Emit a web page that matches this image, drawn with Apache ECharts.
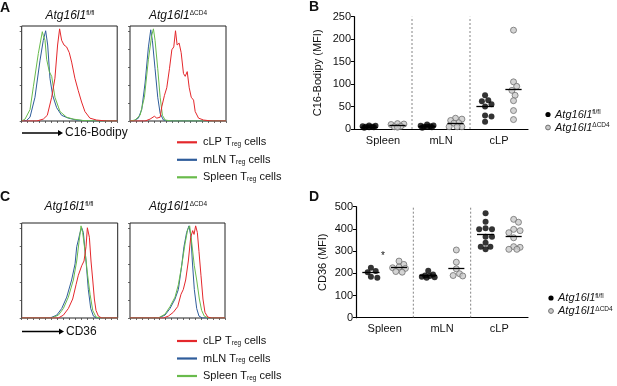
<!DOCTYPE html>
<html>
<head>
<meta charset="utf-8">
<script src="https://cdn.jsdelivr.net/npm/echarts@6/dist/echarts.min.js"></script>
<style>
  html, body { margin: 0; padding: 0; background: #fff; }
  #fig { width: 617px; height: 386px; }
</style>
</head>
<body>
<div id="fig"></div>
<script>
// histograms: [x % of fluorescence axis, % of max count]
var a1Red = [[0,0],[15.7,0],[22.6,2],[26.8,6],[31.4,25],[34.8,45],[37.6,80],[39.7,97],[41.8,85],[44.3,80],[47,78],[49.8,72],[52.3,62],[55.7,45],[59.2,32],[62.7,20],[66.2,10],[71.4,3],[78.4,1],[89,0],[100,0]];
var a1Blue = [[0,0],[5,0.5],[8.7,4],[13.9,25],[19.2,64],[22.6,85],[25.1,95],[27.2,80],[29.6,45],[32.4,27],[36.6,14],[41.8,6],[48.8,3],[57.5,1],[70,0],[100,0]];
var a1Green = [[0,0],[3.5,2],[8.7,12],[12.2,36],[17.4,71],[21.6,94],[22.6,90],[24.4,85],[26.1,65],[28.9,52],[31.4,47],[34.8,25],[40.1,10],[47,4],[54,2],[64.5,0.5],[80,0],[100,0]];
var a2Red = [[0,0],[15.7,0],[20.9,2],[25.4,5],[27.9,3],[31.4,4],[33.1,15],[35.9,27],[38.3,35],[41.1,55],[43.6,75],[45.6,78],[47.4,95],[49.1,80],[51.2,82],[53.3,72],[55.7,50],[57.5,47],[59.6,52],[61.7,35],[63.8,25],[66.2,22],[67.9,10],[71.4,3],[76.7,1],[85.4,0],[100,0]];
var a2Blue = [[0,0],[3.5,0],[8.7,3],[12.2,12],[15.7,40],[19.2,78],[21.6,96],[23.3,85],[26.1,55],[28.9,25],[31.4,8],[34.8,1],[40,0],[100,0]];
var a2Green = [[0,0],[5.2,1],[10.5,6],[15,25],[19.2,65],[22.6,90],[24.4,97],[26.1,85],[28.9,55],[31.4,25],[33.8,6],[36.6,1],[43.6,0],[100,0]];
var c1Red = [[0,0],[38.2,0],[43.4,3],[48.6,10],[53.1,20],[56.6,35],[59,45],[62.5,55],[64.9,60],[67,75],[68.4,95],[70.5,85],[72.2,60],[74,40],[75.7,20],[77.4,8],[79.9,2],[83.3,0],[100,0]];
var c1Blue = [[0,0],[29.5,0],[36.5,3],[41.7,10],[46.9,22],[52,40],[55.6,57],[57.3,75],[59,82],[60.8,90],[62.5,95],[64.2,90],[67,60],[69.4,30],[71.9,10],[74.7,2],[78,0],[100,0]];
var c1Green = [[0,0],[31.2,0],[38.2,3],[43.4,10],[48.6,22],[53.8,40],[57.3,60],[59.7,80],[61.8,97],[63.5,90],[66,70],[68.7,45],[71.2,25],[74,8],[77.4,1],[81.6,0],[100,0]];
var c2Red = [[0,0],[35.1,0],[40.4,2],[45.6,6],[50.2,12],[53.7,25],[56.1,30],[58.6,40],[61.4,60],[63.9,85],[66,92],[67.4,88],[69.1,97],[70.9,90],[72.6,70],[74.7,45],[76.8,20],[78.9,6],[81.8,1],[86,0],[100,0]];
var c2Blue = [[0,0],[29.8,0],[36.8,3],[42.1,10],[47.4,20],[50.9,30],[54.4,55],[56.8,75],[59.6,90],[62.1,97],[64.2,85],[65.6,60],[67.7,30],[70.2,10],[72.6,2],[76.1,0],[100,0]];
var c2Green = [[0,0],[29.8,0],[36.8,4],[42.1,12],[47.4,22],[50.9,35],[54.4,55],[57.9,78],[60.7,93],[62.8,97],[64.9,80],[67.7,55],[70.2,40],[73,20],[75.4,8],[78.2,2],[82.5,0],[100,0]];

// dot plots
var tissues = ['Spleen', 'mLN', 'cLP'];
var bFlox = [[8,7,6,5,5,4,4,3],[10,8,7,6,5,5,4,3],[75,64,62,55,50,30,28,16]];
var bCd4 = [[12,11,10,6,5,4],[24,22,19,14,13,5,5,5],[220,105,95,86,75,63,41,21]];
var bFloxMean = [5, 6, 50];
var bCd4Mean = [8, 12, 88];
var dFlox = [[225,210,205,185,180],[212,195,190,188,185,182,180],[470,432,403,398,398,365,365,338,320,320,308]];
var dCd4 = [[255,240,228,225,222,208,205],[305,250,220,198,190,188],[443,430,398,392,383,360,320,317,308,308]];
var dFloxMean = [203, 189, 377];
var dCd4Mean = [227, 225, 368];

var FONT = '"Liberation Sans", Arial, Helvetica, sans-serif';
var RED = '#e4282c', BLUE = '#2f5d9b', GREEN = '#69bb4c';

var grids = [
  { left: 21.7, top: 26, width: 95.5, height: 95 },
  { left: 130, top: 26, width: 96, height: 95 },
  { left: 21.7, top: 223, width: 96, height: 95 },
  { left: 130, top: 223, width: 95, height: 95 },
  { left: 354, top: 16.7, width: 174, height: 112.3 },
  { left: 356, top: 206.7, width: 172, height: 111 }
];
grids.forEach(function (g, i) {
  g.containLabel = false;
  if (i < 4) { g.show = true; g.borderColor = '#222'; g.borderWidth = 1; }
});

var xAxes = [], yAxes = [];
for (var i = 0; i < 4; i++) {
  xAxes.push({
    gridIndex: i, type: 'value', min: 0, max: 100, interval: 6.25,
    axisLine: { show: false }, splitLine: { show: false }, axisLabel: { show: false },
    axisTick: { show: true, length: 2, lineStyle: { color: '#444', width: 0.8 } }
  });
  yAxes.push({
    gridIndex: i, type: 'value', min: 0, max: 100, interval: 19,
    axisLine: { show: false }, splitLine: { show: false }, axisLabel: { show: false },
    axisTick: { show: true, length: 2, lineStyle: { color: '#444', width: 0.8 } }
  });
}

function dotX(gridIdx) {
  return {
    gridIndex: gridIdx, type: 'value', min: 0, max: 3, interval: 0.5,
    axisLine: { lineStyle: { color: '#000', width: 1.2 } },
    axisTick: { show: false }, splitLine: { show: false },
    axisLabel: {
      fontFamily: FONT, fontSize: 11, color: '#111', margin: 6,
      formatter: function (v) {
        var k = Math.round(v - 0.5);
        return (Math.abs(v - k - 0.5) < 0.01) ? tissues[k] : '';
      }
    }
  };
}
function dotY(gridIdx, max, step, name, gap) {
  return {
    gridIndex: gridIdx, type: 'value', min: 0, max: max, interval: step,
    name: name, nameLocation: 'middle', nameGap: gap, nameRotate: 90,
    nameTextStyle: { fontFamily: FONT, fontSize: 11, color: '#111' },
    axisLine: { show: true, lineStyle: { color: '#000', width: 1.2 } },
    axisTick: { show: true, length: 3, lineStyle: { color: '#000' } },
    splitLine: { show: false },
    axisLabel: { fontFamily: FONT, fontSize: 11, color: '#111', margin: 3 }
  };
}
xAxes.push(dotX(4)); yAxes.push(dotY(4, 250, 50, 'C16-Bodipy (MFI)', 31));
xAxes.push(dotX(5)); yAxes.push(dotY(5, 500, 100, 'CD36 (MFI)', 28));

var series = [];
function hist(idx, red, blue, green) {
  [[blue, BLUE], [green, GREEN], [red, RED]].forEach(function (p) {
    series.push({
      type: 'line', xAxisIndex: idx, yAxisIndex: idx, data: p[0],
      showSymbol: false, smooth: false, silent: true,
      lineStyle: { color: p[1], width: 1 }
    });
  });
}
hist(0, a1Red, a1Blue, a1Green);
hist(1, a2Red, a2Blue, a2Green);
hist(2, c1Red, c1Blue, c1Green);
hist(3, c2Red, c2Blue, c2Green);

// beeswarm: first free sideways slot, else the least crowded one
function swarm(values, center, bandPx, pxPerUnit) {
  var placed = [], out = [];
  var sorted = values.slice().sort(function (a, b) { return b - a; });
  var offs = [0, 1, -1, 2, -2, 3, -3, 4, -4];
  sorted.forEach(function (v) {
    var yPx = v * pxPerUnit, best = 0, bestD = -1, chosen = null;
    for (var k = 0; k < offs.length; k++) {
      var xPx = offs[k] * 1.6, minD = 1e9;
      for (var j = 0; j < placed.length; j++) {
        var dx = placed[j][0] - xPx, dy = placed[j][1] - yPx;
        minD = Math.min(minD, Math.sqrt(dx * dx + dy * dy));
      }
      if (minD >= 5.2) { chosen = xPx; break; }
      if (minD > bestD) { bestD = minD; best = xPx; }
    }
    if (chosen === null) chosen = best;
    placed.push([chosen, yPx]);
    out.push([center + chosen / bandPx, v]);
  });
  return out;
}

function dotPanel(idx, flox, cd4, floxMean, cd4Mean, max, bandPx, hPx) {
  var ppu = hPx / max;
  var blk = [], gry = [], lines = [];
  for (var t = 0; t < 3; t++) {
    var cb = t + 0.26, cg = t + 0.75;
    blk = blk.concat(swarm(flox[t], cb, bandPx, ppu));
    gry = gry.concat(swarm(cd4[t], cg, bandPx, ppu));
    lines.push([{ coord: [cb - 0.15, floxMean[t]] }, { coord: [cb + 0.15, floxMean[t]] }]);
    lines.push([{ coord: [cg - 0.14, cd4Mean[t]] }, { coord: [cg + 0.14, cd4Mean[t]] }]);
  }
  series.push({
    type: 'line', xAxisIndex: idx, yAxisIndex: idx, silent: true, showSymbol: false,
    data: [[1, 0], [1, max], null, [2, 0], [2, max]].map(function (p) { return p || ['-', '-']; }),
    lineStyle: { color: '#666', width: 0.8, type: [2, 2] }
  });
  series.push({
    type: 'scatter', xAxisIndex: idx, yAxisIndex: idx, data: blk, symbolSize: 6,
    itemStyle: { color: '#000' }, silent: true
  });
  series.push({
    type: 'scatter', xAxisIndex: idx, yAxisIndex: idx, data: gry, symbolSize: 6,
    itemStyle: { color: '#c9c9c9', borderColor: '#707070', borderWidth: 1 }, silent: true,
    markLine: {
      silent: true, symbol: 'none', label: { show: false },
      lineStyle: { color: '#000', width: 1.3, type: 'solid' },
      data: lines
    }
  });
}
dotPanel(4, bFlox, bCd4, bFloxMean, bCd4Mean, 250, 58, 112.3);
dotPanel(5, dFlox, dCd4, dFloxMean, dCd4Mean, 500, 57.3, 111);

// text helpers
var rich = {
  i: { fontFamily: FONT, fontSize: 12, fontStyle: 'italic', color: '#111' },
  s: { fontFamily: FONT, fontSize: 6.5, color: '#111', verticalAlign: 'top' },
  li: { fontFamily: FONT, fontSize: 11, fontStyle: 'italic', color: '#111' },
  ls: { fontFamily: FONT, fontSize: 6.5, color: '#111', verticalAlign: 'top' },
  t: { fontFamily: FONT, fontSize: 11, color: '#111' },
  sub: { fontFamily: FONT, fontSize: 6.5, color: '#111', verticalAlign: 'bottom' }
};
function txt(x, y, text, opts) {
  opts = opts || {};
  return {
    type: 'text', x: x, y: y, silent: true,
    style: {
      text: text, rich: rich, fontFamily: FONT, fontSize: opts.size || 12,
      fontWeight: opts.weight || 'normal', fill: '#111',
      align: opts.align || 'left', verticalAlign: 'middle'
    }
  };
}
function arrow(x1, x2, y) {
  return [
    { type: 'line', silent: true, shape: { x1: x1, y1: y, x2: x2 - 4, y2: y }, style: { stroke: '#000', lineWidth: 1.4 } },
    { type: 'polygon', silent: true, shape: { points: [[x2 - 5, y - 3], [x2, y], [x2 - 5, y + 3]] }, style: { fill: '#000' } }
  ];
}
function lineKey(y0) {
  var out = [];
  [[RED, 'cLP'], [BLUE, 'mLN'], [GREEN, 'Spleen']].forEach(function (e, k) {
    var y = y0 + k * 17.5;
    out.push({ type: 'line', silent: true, shape: { x1: 177, y1: y, x2: 197, y2: y }, style: { stroke: e[0], lineWidth: 2.2 } });
    out.push(txt(203, y, '{t|' + e[1] + ' T}{sub|reg}{t| cells}'));
  });
  return out;
}
function dotKey(x, y0) {
  return [
    { type: 'circle', silent: true, shape: { cx: x, cy: y0, r: 2.6 }, style: { fill: '#000' } },
    txt(x + 7, y0, '{li|Atg16l1}{ls|fl/fl}'),
    { type: 'circle', silent: true, shape: { cx: x, cy: y0 + 13, r: 2.4 }, style: { fill: '#c9c9c9', stroke: '#707070', lineWidth: 1 } },
    txt(x + 7, y0 + 13, '{li|Atg16l1}{ls|\u0394CD4}')
  ];
}

var graphic = [
  txt(0, 8, 'A', { size: 14, weight: 'bold' }),
  txt(309, 7, 'B', { size: 14, weight: 'bold' }),
  txt(0, 197, 'C', { size: 14, weight: 'bold' }),
  txt(309, 197, 'D', { size: 14, weight: 'bold' }),
  txt(70, 16, '{i|Atg16l1}{s|fl/fl}', { align: 'center' }),
  txt(178, 16, '{i|Atg16l1}{s|\u0394CD4}', { align: 'center' }),
  txt(69, 207, '{i|Atg16l1}{s|fl/fl}', { align: 'center' }),
  txt(178, 207, '{i|Atg16l1}{s|\u0394CD4}', { align: 'center' }),
  txt(65, 133, 'C16-Bodipy'),
  txt(66, 331.5, 'CD36'),
  txt(383, 256, '*', { size: 10, align: 'center' })
]
  .concat(arrow(22, 63, 133))
  .concat(arrow(22, 64, 331.5))
  .concat(lineKey(142.3))
  .concat(lineKey(341))
  .concat(dotKey(548, 114.5))
  .concat(dotKey(551, 298));

var chart = echarts.init(document.getElementById('fig'), null, { renderer: 'canvas' });
chart.setOption({
  animation: false,
  backgroundColor: '#fff',
  textStyle: { fontFamily: FONT },
  grid: grids,
  xAxis: xAxes,
  yAxis: yAxes,
  series: series,
  graphic: graphic
});
</script>
</body>
</html>
